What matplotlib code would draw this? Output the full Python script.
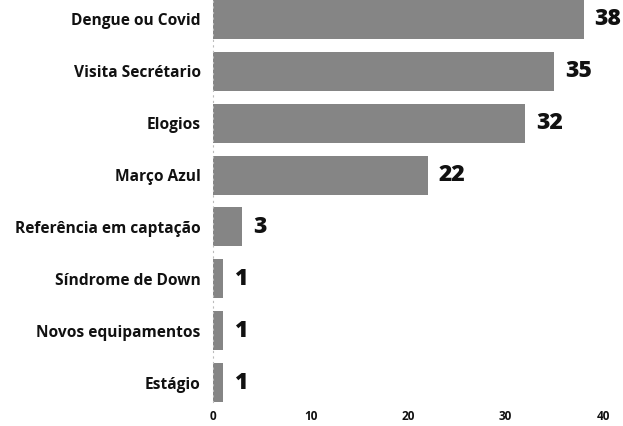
import matplotlib
matplotlib.use("Agg")
import matplotlib.pyplot as plt

categories = [
    "Dengue ou Covid",
    "Visita Secrétario",
    "Elogios",
    "Março Azul",
    "Referência em captação",
    "Síndrome de Down",
    "Novos equipamentos",
    "Estágio",
]
values = [38, 35, 32, 22, 3, 1, 1, 1]
xticks = [0, 10, 20, 30, 40]

plt.rcParams["font.family"] = ["Open Sans", "DejaVu Sans"]

W, H = 623, 426
fig = plt.figure(figsize=(W / 100, H / 100), dpi=100)
ax = fig.add_axes([213 / W, 24 / H, (603 - 213) / W, 402 / H])

pos = list(range(len(categories)))
ax.barh(pos, values, height=0.75, color="#858585", edgecolor="none")

ax.set_xlim(0, 40)
ax.set_ylim(len(categories) - 0.625, -0.375)
ax.set_yticks(pos)
ax.set_yticklabels(categories, fontsize=11.2, fontweight="bold", color="#111111")
ax.set_xticks(xticks)
ax.set_xticklabels([str(t) for t in xticks], fontsize=8.5, fontweight="bold", color="#111111")
ax.tick_params(axis="both", length=0)
ax.tick_params(axis="y", pad=9)
ax.tick_params(axis="x", pad=6)

for s in ["top", "right", "bottom"]:
    ax.spines[s].set_visible(False)
ax.spines["left"].set_color("#bbbbbb")
ax.spines["left"].set_linestyle((0, (1, 4)))
ax.spines["left"].set_linewidth(0.8)

for p, v in zip(pos, values):
    ax.annotate(str(v), xy=(v, p), xytext=(8, 0), textcoords="offset points",
                ha="left", va="center", fontsize=16.5, fontweight="heavy",
                color="#111111", annotation_clip=False)

fig.savefig("out.png", dpi=100, facecolor="white")
